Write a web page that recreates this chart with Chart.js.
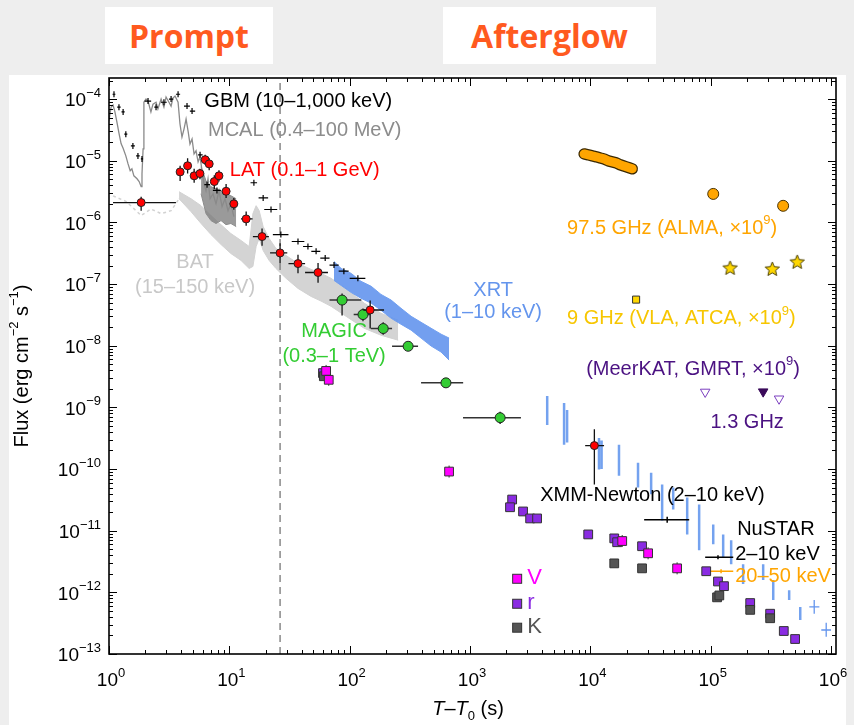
<!DOCTYPE html>
<html>
<head>
<meta charset="utf-8">
<title>Broadband light curve</title>
<script src="https://cdn.jsdelivr.net/npm/chart.js@4.4.1/dist/chart.umd.min.js"></script>
<style>
  html, body { margin: 0; padding: 0; background: #eeeeee; }
  #wrap { position: relative; width: 854px; height: 725px; overflow: hidden; }
  #panel { position: absolute; left: 9px; top: 75px; width: 837px; height: 650px; background: #fff; }
  .phase { position: absolute; top: 7px; height: 57px; background: #fff; color: #ff5a1f;
           font: 700 32px "Open Sans", sans-serif; display: flex; align-items: center; justify-content: center; }
  #sed { position: absolute; left: 0; top: 0; }
</style>
</head>
<body>
<div id="wrap">
  <div class="phase" style="left:105px;width:168px">Prompt</div>
  <div class="phase" style="left:443px;width:213px">Afterglow</div>
  <div id="panel"></div>
  <canvas id="sed" width="854" height="725"></canvas>
</div>
<script>
// ---- data (T - T0 in s, flux in erg cm-2 s-1) ----

// GBM light curve (grey line)
const gbmT = [1.0,1.04,1.08,1.12,1.17,1.21,1.26,1.31,1.38,1.44,1.50,1.55,1.61,1.71,1.78,1.85,1.88,1.92,1.95,2.03,2.11,2.23,2.32,2.46,2.55,2.71,2.86,2.98,3.15,3.28,3.40,3.54,3.75,3.89,4.04,4.20,4.37,4.54,4.71,4.90,5.09,5.29,5.50,5.71,5.93,6.16,6.40,6.65,6.91,7.32,7.75,8.21,8.70,9.21,9.75,10.3,10.9];
const gbmF = [4.5e-5,7.4e-5,8.0e-5,6.2e-5,4.0e-5,2.8e-5,1.9e-5,1.6e-5,1.2e-5,8.9e-6,6.9e-6,7.4e-6,5.7e-6,5.1e-6,4.6e-6,3.8e-6,6.1e-6,1.56e-5,8.9e-5,1.0e-4,9.3e-5,6.2e-5,8.3e-5,8.9e-5,6.9e-5,1.0e-4,7.4e-5,1.08e-4,8.9e-5,7.7e-5,1.04e-4,1.12e-4,8.9e-5,3.95e-5,2.43e-5,3.27e-5,4.75e-5,3.04e-5,1.87e-5,2.26e-5,1.29e-5,1.45e-5,9.6e-6,1.16e-5,6.9e-6,4.24e-6,3.27e-6,5.1e-6,2.42e-6,2.92e-6,2.01e-6,3.27e-6,1.8e-6,2.42e-6,1.55e-6,2.01e-6,1.24e-6];

// noisy dark part of the GBM curve
const gbmBandT   = [5.82,6.40,7.04,7.75,8.53,9.38,10.3,11.4];
const gbmBandTop = [7.96e-6,4.73e-6,3.79e-6,3.52e-6,3.27e-6,2.92e-6,2.71e-6,2.42e-6];
const gbmBandBot = [2.92e-6,1.39e-6,1.07e-6,9.6e-7,1.07e-6,9.2e-7,9.6e-7,8.55e-7];

// binned GBM points (black crosses)
const gbmBinT  = [1.10,1.21,1.31,1.38,1.58,1.74,1.88,2.11,2.46,2.86,3.28,3.75,4.45,4.90,5.71,6.53,7.89,16.0,19.1,22.2,26.8,37.2,45.0,52.6,62.6,74.1,89.5,117];
const gbmBinF  = [1.2e-4,7.4e-5,6.2e-5,2.7e-5,1.74e-5,1.2e-5,1.07e-5,9.3e-5,7.4e-5,8.9e-5,1.0e-4,1.2e-4,7.7e-5,6.4e-5,1.25e-5,4.1e-6,3.3e-6,4.4e-6,2.5e-6,1.62e-6,6.35e-7,4.9e-7,4.07e-7,3.4e-7,2.64e-7,2.03e-7,1.62e-7,1.24e-7];
const gbmBinLo = [1.07,1.17,1.27,1.34,1.52,1.68,1.84,1.98,2.38,2.70,3.15,3.60,4.2,4.7,5.5,6.2,7.3,15.0,17.5,19.5,23,33,41,48,57,68,81,100];
const gbmBinHi = [1.13,1.25,1.35,1.42,1.64,1.80,1.92,2.24,2.55,3.02,3.42,3.90,4.7,5.2,6.0,6.9,8.5,17.0,21.0,25.0,31,42,49,57,68,81,98,135];

// BAT (light grey)
const batEarlyT = [1.08,1.38,1.68,1.85,2.23,2.71,3.28,3.82];
const batEarlyF = [2.7e-6,2.2e-6,1.55e-6,1.29e-6,1.65e-6,1.39e-6,1.55e-6,2.42e-6];
const batT   = [3.82,4.81,5.82,7.04,8.53,10.3,12.5,14.6,15.7,16.7,17.7,19.1,21.4,24.4,29.6,37.2,47.8,57.8,70.0,93.3,132,182,253];
const batTop = [3.15e-6,2.42e-6,1.87e-6,1.29e-6,9.2e-7,6.6e-7,5.1e-7,4.07e-7,1.39e-6,1.87e-6,1.55e-6,8.55e-7,5.5e-7,3.78e-7,2.91e-7,2.16e-7,1.73e-7,1.49e-7,1.24e-7,8.5e-8,4.9e-8,3.36e-8,2.59e-8];
const batBot = [2.42e-6,1.49e-6,9.6e-7,6.35e-7,4.38e-7,3.13e-7,2.42e-7,1.79e-7,1.93e-7,4.07e-7,5.5e-7,3.5e-7,2.42e-7,1.79e-7,1.24e-7,8.5e-8,6.3e-8,5.3e-8,4.36e-8,3.0e-8,1.92e-8,1.48e-8,1.23e-8];

// XRT (blue)
const xrtT   = [74,85,103,124,151,182,221,267,324,392,475,575,670];
const xrtTop = [2.33e-7,1.79e-7,1.49e-7,1.11e-7,9.2e-8,6.8e-8,5.5e-8,4.05e-8,3.0e-8,2.4e-8,1.92e-8,1.54e-8,1.33e-8];
const xrtBot = [1.15e-7,9.5e-8,7.3e-8,5.9e-8,4.9e-8,3.76e-8,2.79e-8,2.23e-8,1.79e-8,1.33e-8,9.9e-9,7.9e-9,5.85e-9];
const xrtOrbT  = [4380,6050,6410,11800,12400,17300,24900,32000,39500,48800,63800,80200,105000,127000,148000,186000,273000,331000,449000,555000];
const xrtOrbLo = [5.2e-10,2.48e-10,2.7e-10,9.8e-11,1.0e-10,7.8e-11,5.0e-11,3.9e-11,1.47e-11,2.2e-11,8.7e-12,4.8e-12,6.0e-12,3.7e-12,2.86e-12,1.36e-12,1.58e-12,7.5e-13,7.5e-13,3.56e-13];
const xrtOrbHi = [1.53e-9,1.18e-9,9.1e-10,3.2e-10,2.9e-10,2.48e-10,1.27e-10,8.7e-11,5.6e-11,5.0e-11,3.47e-11,2.66e-11,1.26e-11,8.7e-12,7.0e-12,2.86e-12,2.86e-12,1.58e-12,1.08e-12,5.8e-13];
const xrtLateT  = [725000,912000];
const xrtLateF  = [5.8e-13,2.45e-13];
const xrtLateTlo = [660000,830000];
const xrtLateThi = [800000,1000000];
const xrtLateFlo = [4.5e-13,1.9e-13];
const xrtLateFhi = [7.5e-13,3.2e-13];

// LAT (red)
const latT   = [1.85,3.9,4.5,5.1,5.7,6.3,6.8,7.5,8.2,9.4,10.9,13.8,18.7,26.4,37.2,54.6,148,10800];
const latF   = [2.1e-6,6.6e-6,8.3e-6,5.7e-6,6.2e-6,1.04e-5,8.9e-6,4.6e-6,5.7e-6,3.2e-6,2.0e-6,1.14e-6,5.9e-7,3.2e-7,2.15e-7,1.54e-7,3.8e-8,2.4e-10];
const latTlo = [1.08,3.8,4.4,5.0,5.6,6.2,6.7,7.3,8.0,9.1,10.2,12.5,15.7,21.8,31,42.6,130,9060];
const latThi = [3.6,4.0,4.6,5.2,5.8,6.4,6.9,7.7,8.4,9.7,11.6,15.6,21.3,30.3,42.6,66,193,13000];
const latFlo = [1.55e-6,4.7e-6,6.2e-6,4.4e-6,5.0e-6,8.5e-6,7.0e-6,3.5e-6,4.6e-6,2.5e-6,1.6e-6,8.8e-7,4.2e-7,2.2e-7,1.5e-7,1.05e-7,1.9e-8,5.6e-11];
const latFhi = [2.6e-6,8.3e-6,1.1e-5,7.4e-6,7.4e-6,1.25e-5,1.1e-5,5.8e-6,7.0e-6,4.2e-6,2.5e-6,1.5e-6,8.0e-7,4.6e-7,3.0e-7,2.2e-7,5.4e-8,4.4e-10];

// MAGIC (green)
const magicT   = [86.5,129,190,306,631,1780];
const magicF   = [5.5e-8,3.2e-8,1.9e-8,9.8e-9,2.5e-9,6.8e-10];
const magicTlo = [68,108,150,225,392,875];
const magicThi = [125,147,225,370,877,2650];
const magicFlo = [3.1e-8,2.5e-8,1.5e-8,8.5e-9,2.1e-9,5.4e-10];
const magicFhi = [7.0e-8,4.0e-8,2.4e-8,1.1e-8,2.9e-9,8.5e-10];

// optical / NIR (V, r, K)
const vT = [63.7,67,670,18400,30200,52600];
const vF = [3.9e-9,2.8e-9,9.1e-11,6.8e-12,4.3e-12,2.45e-12];
const rT = [60,2240,2150,2760,3160,3610,9600,15800,16700,26900,91800,115000,129000,213000,312000,405000,503000];
const rF = [3.6e-9,3.2e-11,2.4e-11,2.05e-11,1.58e-11,1.58e-11,8.7e-12,7.5e-12,6.5e-12,5.6e-12,2.2e-12,1.5e-12,1.26e-12,6.7e-13,4.5e-13,2.36e-13,1.75e-13];
const kT = [61,15800,26900,113000,118000,213000,312000];
const kF = [3.2e-9,2.95e-12,2.45e-12,8.3e-13,8.9e-13,5.2e-13,3.8e-13];

// radio (x1e9)
const almaTrackT = [8880,9590,10400,11200,12100,13000,14100,15200,16400,17700,18700,19900,21000,22300];
const almaTrackF = [1.29e-5,1.25e-5,1.2e-5,1.16e-5,1.11e-5,1.07e-5,9.96e-6,9.6e-6,9.25e-6,8.6e-6,8.3e-6,7.97e-6,7.7e-6,7.4e-6];
const almaT = [105000,400000];
const almaF = [2.9e-6,1.86e-6];
const vlaT = [145000,325000,524000];
const vlaF = [1.8e-7,1.73e-7,2.25e-7];
const atcaT = [24000];
const atcaF = [5.6e-8];
const meerUlT = [90000,370000];
const meerUlF = [1.78e-9,1.38e-9];
const meerT = [273000];
const meerF = [1.8e-9];

// XMM-Newton and NuSTAR
const xmmT = [43500], xmmF = [1.5e-11], xmmTlo = [28000], xmmThi = [66300];
const nuSoftT = [115000], nuSoftF = [3.7e-12], nuSoftTlo = [90000], nuSoftThi = [154000];
const nuHardT = [122000], nuHardF = [2.2e-12], nuHardTlo = [97000], nuHardThi = [154000];

// end of prompt phase (dashed line)
const promptEnd = 26.4;

// ---- helpers ----
const P = (xs, ys) => xs.map((x, i) => ({ x, y: ys[i] }));
const segs = (xs, lo, hi) => xs.flatMap((x, i) => [{ x, y: lo[i] }, { x, y: hi[i] }, { x, y: null }]);
const FAM = '"Liberation Sans", Arial, Helvetica, sans-serif';

function starImage(r, fill, stroke) {
  const c = document.createElement('canvas');
  const s = Math.ceil(r * 2 + 4);
  c.width = c.height = s;
  const g = c.getContext('2d');
  g.beginPath();
  for (let k = 0; k < 10; k++) {
    const rr = k % 2 ? r * 0.45 : r;
    const a = -Math.PI / 2 + k * Math.PI / 5;
    g.lineTo(s / 2 + rr * Math.cos(a), s / 2 + rr * Math.sin(a));
  }
  g.closePath();
  g.fillStyle = fill; g.fill();
  g.strokeStyle = stroke; g.lineWidth = 1; g.stroke();
  return c;
}

// parts: [text, 'sup'|'sub'|undefined, italic]
function drawRuns(ctx, parts, x, y, size, align) {
  const font = p => (p[2] ? 'italic ' : '') + (p[1] ? Math.round(size * 0.66) : size) + 'px ' + FAM;
  let w = 0;
  parts.forEach(p => { ctx.font = font(p); w += ctx.measureText(p[0]).width; });
  let cx = align === 'center' ? x - w / 2 : align === 'right' ? x - w : x;
  ctx.textAlign = 'left';
  ctx.textBaseline = 'middle';
  parts.forEach(p => {
    ctx.font = font(p);
    const dy = p[1] === 'sup' ? -size * 0.4 : p[1] === 'sub' ? size * 0.35 : 0;
    ctx.fillText(p[0], cx, y + dy);
    cx += ctx.measureText(p[0]).width;
  });
}

// error bars, drawn just before the markers of their dataset
const errorBars = {
  id: 'errorBars',
  beforeDatasetDraw(chart, args) {
    const ds = chart.data.datasets[args.index];
    const e = ds.err;
    if (!e) return;
    const { ctx, chartArea: a, scales: { x, y } } = chart;
    ctx.save();
    ctx.beginPath(); ctx.rect(a.left, a.top, a.width, a.height); ctx.clip();
    ctx.strokeStyle = e.color;
    ctx.lineWidth = e.width || 1.3;
    ds.data.forEach((p, i) => {
      const px = x.getPixelForValue(p.x), py = y.getPixelForValue(p.y);
      ctx.beginPath();
      if (e.xlo) { ctx.moveTo(x.getPixelForValue(e.xlo[i]), py); ctx.lineTo(x.getPixelForValue(e.xhi[i]), py); }
      if (e.ylo) { ctx.moveTo(px, y.getPixelForValue(e.ylo[i])); ctx.lineTo(px, y.getPixelForValue(e.yhi[i])); }
      else if (e.tick) { ctx.moveTo(px, py - e.tick); ctx.lineTo(px, py + e.tick); }
      ctx.stroke();
    });
    ctx.restore();
  }
};

// box, inward ticks on all sides, tick labels and axis titles
const frame = {
  id: 'frame',
  afterDatasetsDraw(chart) {
    const { ctx, chartArea: a, scales: { x, y } } = chart;
    ctx.save();
    ctx.strokeStyle = '#000';
    ctx.lineWidth = 1;
    ctx.beginPath();
    for (let e = 0; e <= 6; e++) for (let m = 1; m <= 9; m++) {
      const v = m * Math.pow(10, e);
      if (v > x.max) continue;
      const px = Math.round(x.getPixelForValue(v)) + 0.5, L = m === 1 ? 8 : 4;
      ctx.moveTo(px, a.bottom); ctx.lineTo(px, a.bottom - L);
      ctx.moveTo(px, a.top); ctx.lineTo(px, a.top + L);
    }
    for (let e = -13; e <= -4; e++) for (let m = 1; m <= 9; m++) {
      const v = m * Math.pow(10, e);
      if (v > y.max) continue;
      const py = Math.round(y.getPixelForValue(v)) + 0.5, L = m === 1 ? 8 : 4;
      ctx.moveTo(a.left, py); ctx.lineTo(a.left + L, py);
      ctx.moveTo(a.right, py); ctx.lineTo(a.right - L, py);
    }
    ctx.stroke();
    ctx.lineWidth = 1.6;
    ctx.strokeRect(a.left, a.top, a.right - a.left, a.bottom - a.top);

    ctx.fillStyle = '#000';
    for (let e = 0; e <= 6; e++) {
      drawRuns(ctx, [['10'], [String(e), 'sup']], x.getPixelForValue(Math.pow(10, e)) + 2, a.bottom + 27, 19, 'center');
    }
    for (let e = -13; e <= -4; e++) {
      drawRuns(ctx, [['10'], ['\u2212' + (-e), 'sup']], a.left - 8, y.getPixelForValue(Math.pow(10, e)) + 2, 19, 'right');
    }
    drawRuns(ctx, [['T', undefined, true], ['\u2013'], ['T', undefined, true], ['0', 'sub'], [' (s)']], 468, 709, 20, 'center');
    ctx.translate(22, 366);
    ctx.rotate(-Math.PI / 2);
    drawRuns(ctx, [['Flux (erg cm'], ['\u22122', 'sup'], [' s'], ['\u22121', 'sup'], [')']], 0, 0, 20, 'center');
    ctx.restore();
  }
};

// instrument labels, anchored in data coordinates
const labels = [
  { parts: [['GBM (10\u20131,000 keV)']], x: 6.2, y: 9.1e-5, color: '#000', align: 'left' },
  { parts: [['MCAL (0.4\u2013100 MeV)']], x: 6.65, y: 3.15e-5, color: '#8c8c8c', align: 'left' },
  { parts: [['LAT (0.1\u20131 GeV)']], x: 10.1, y: 7.06e-6, color: '#ff0000', align: 'left' },
  { parts: [['BAT']], x: 5.19, y: 2.28e-7, color: '#c8c8c8', align: 'center' },
  { parts: [['(15\u2013150 keV)']], x: 5.19, y: 8.97e-8, color: '#c8c8c8', align: 'center' },
  { parts: [['XRT']], x: 1556, y: 8.0e-8, color: '#6495ed', align: 'center' },
  { parts: [['(1\u201310 keV)']], x: 1556, y: 3.4e-8, color: '#6495ed', align: 'center' },
  { parts: [['MAGIC']], x: 74.2, y: 1.68e-8, color: '#33cc33', align: 'center' },
  { parts: [['(0.3\u20131 TeV)']], x: 74.2, y: 6.6e-9, color: '#33cc33', align: 'center' },
  { parts: [['97.5 GHz (ALMA, \u00d710'], ['9', 'sup'], [')']], x: 6410, y: 8.1e-7, color: '#ffa500', align: 'left' },
  { parts: [['9 GHz (VLA, ATCA, \u00d710'], ['9', 'sup'], [')']], x: 6410, y: 2.72e-8, color: '#f7c600', align: 'left' },
  { parts: [['(MeerKAT, GMRT, \u00d710'], ['9', 'sup'], [')']], x: 9230, y: 4.06e-9, color: '#4b1282', align: 'left' },
  { parts: [['1.3 GHz']], x: 201000, y: 5.6e-10, color: '#4b1282', align: 'center' },
  { parts: [['XMM-Newton (2\u201310 keV)']], x: 3830, y: 3.68e-11, color: '#000', align: 'left' },
  { parts: [['NuSTAR']], x: 166000, y: 1.035e-11, color: '#000', align: 'left' },
  { parts: [['2\u201310 keV']], x: 160000, y: 4.07e-12, color: '#000', align: 'left' },
  { parts: [['20\u201350 keV']], x: 160000, y: 1.79e-12, color: '#ffa500', align: 'left' }
];
const bandKey = [
  { name: 'V', color: '#ff00ff', x: 2465, y: 1.66e-12 },
  { name: 'r', color: '#8a2be2', x: 2465, y: 6.53e-13 },
  { name: 'K', color: '#555555', x: 2465, y: 2.67e-13 }
];

const notes = {
  id: 'notes',
  afterDatasetsDraw(chart) {
    const { ctx, scales: { x, y } } = chart;
    ctx.save();
    labels.forEach(n => {
      ctx.fillStyle = n.color;
      drawRuns(ctx, n.parts, x.getPixelForValue(n.x), y.getPixelForValue(n.y), 20, n.align);
    });
    bandKey.forEach(k => {
      const px = x.getPixelForValue(k.x), py = y.getPixelForValue(k.y);
      ctx.fillStyle = k.color;
      ctx.strokeStyle = '#333';
      ctx.lineWidth = 1;
      ctx.fillRect(px - 4.5, py - 4.5, 9, 9);
      ctx.strokeRect(px - 4.5, py - 4.5, 9, 9);
      ctx.fillStyle = k.color;
      drawRuns(ctx, [[k.name]], px + 10, py - 1, 22, 'left');
    });
    ctx.restore();
  }
};

const line = (data, color, width, order, extra) => Object.assign({
  data, showLine: true, borderColor: color, borderWidth: width, pointRadius: 0, fill: false, order
}, extra || {});
const marks = (data, style, radius, bg, border, order, extra) => Object.assign({
  data, pointStyle: style, pointRadius: radius, backgroundColor: bg, borderColor: border,
  pointBorderWidth: 1, showLine: false, order
}, extra || {});

const datasets = [
  line(P(batT, batTop), '#d2d2d2', 1, 20),
  line(P(batT, batBot), '#d2d2d2', 1, 20, { fill: '-1', backgroundColor: '#d4d4d4' }),
  line(P(batEarlyT, batEarlyF), '#d2d2d2', 1.5, 19, { borderDash: [3, 3] }),
  line(P(gbmBandT, gbmBandTop), '#8c8c8c', 1, 18),
  line(P(gbmBandT, gbmBandBot), '#8c8c8c', 1, 18, { fill: '-1', backgroundColor: 'rgba(120,120,120,0.75)' }),
  line(P(gbmT, gbmF), '#8a8a8a', 1.3, 17),
  line(P(xrtT, xrtTop), '#6f9ef0', 1, 16),
  line(P(xrtT, xrtBot), '#6f9ef0', 1, 16, { fill: '-1', backgroundColor: 'rgba(100,149,237,0.9)' }),
  line(segs(xrtOrbT, xrtOrbLo, xrtOrbHi), '#74a2ef', 2.5, 15),
  line([{ x: promptEnd, y: 1e-13 }, { x: promptEnd, y: 2.2e-4 }], '#777', 1.3, 14, { borderDash: [7, 5] }),
  marks(P(gbmBinT, gbmBinF), 'circle', 0, '#000', '#000', 10,
        { err: { xlo: gbmBinLo, xhi: gbmBinHi, tick: 3, color: '#000', width: 1.2 } }),
  marks(P(xrtLateT, xrtLateF), 'circle', 0, '#6495ed', '#6495ed', 10,
        { err: { xlo: xrtLateTlo, xhi: xrtLateThi, ylo: xrtLateFlo, yhi: xrtLateFhi, color: '#6495ed' } }),
  marks(P(xmmT, xmmF), 'circle', 0, '#000', '#000', 10,
        { err: { xlo: xmmTlo, xhi: xmmThi, tick: 3, color: '#000', width: 1.5 } }),
  marks(P(nuSoftT, nuSoftF), 'circle', 0, '#000', '#000', 10,
        { err: { xlo: nuSoftTlo, xhi: nuSoftThi, tick: 2, color: '#000', width: 1.5 } }),
  marks(P(nuHardT, nuHardF), 'circle', 0, '#ffa500', '#ffa500', 10,
        { err: { xlo: nuHardTlo, xhi: nuHardThi, tick: 2, color: '#ffa500', width: 1.5 } }),
  marks(P(rT, rF), 'rect', 6.2, '#8a2be2', '#333', 7),
  marks(P(kT, kF), 'rect', 6.2, '#555555', '#333', 6),
  marks(P(vT, vF), 'rect', 6.2, '#ff00ff', '#333', 5,
        { err: { tick: 6, color: '#333', width: 1 } }),
  marks(P(magicT, magicF), 'circle', 5, '#33cc33', '#222', 4,
        { err: { xlo: magicTlo, xhi: magicThi, ylo: magicFlo, yhi: magicFhi, color: '#333', width: 1.5 } }),
  marks(P(latT, latF), 'circle', 4, '#ff0000', '#222', 3,
        { err: { xlo: latTlo, xhi: latThi, ylo: latFlo, yhi: latFhi, color: '#111', width: 1.3 } }),
  line(P(almaTrackT, almaTrackF), '#ffa500', 9, 5, { borderCapStyle: 'round', borderJoinStyle: 'round' }),
  line(P(almaTrackT, almaTrackF), '#3a2800', 11.5, 6, { borderCapStyle: 'round', borderJoinStyle: 'round' }),
  marks(P(almaT, almaF), 'circle', 5.5, '#ffa500', '#4a3300', 5),
  marks(P(vlaT, vlaF), starImage(7.5, '#ffd700', '#4a3f00'), 7, '#ffd700', '#4a3f00', 5),
  marks(P(atcaT, atcaF), 'rect', 5, '#ffd700', '#333', 5),
  marks(P(meerUlT, meerUlF), 'triangle', 5.5, '#ffffff', '#7b3fbf', 5, { pointRotation: 180 }),
  marks(P(meerT, meerF), 'triangle', 5.5, '#3a0a5a', '#3a0a5a', 5, { pointRotation: 180 })
];

new Chart(document.getElementById('sed'), {
  type: 'scatter',
  data: { datasets },
  options: {
    responsive: false,
    animation: false,
    layout: { padding: { left: 0, top: 78, right: 18, bottom: 0 } },
    plugins: { legend: { display: false }, tooltip: { enabled: false } },
    scales: {
      x: {
        type: 'logarithmic', min: 1, max: 1.1e6,
        ticks: { display: false }, grid: { display: false }, border: { display: false },
        afterFit: s => { s.height = 71; }
      },
      y: {
        type: 'logarithmic', min: 1e-13, max: 2.2e-4,
        ticks: { display: false }, grid: { display: false }, border: { display: false },
        afterFit: s => { s.width = 109; }
      }
    }
  },
  plugins: [errorBars, frame, notes]
});
</script>
</body>
</html>
